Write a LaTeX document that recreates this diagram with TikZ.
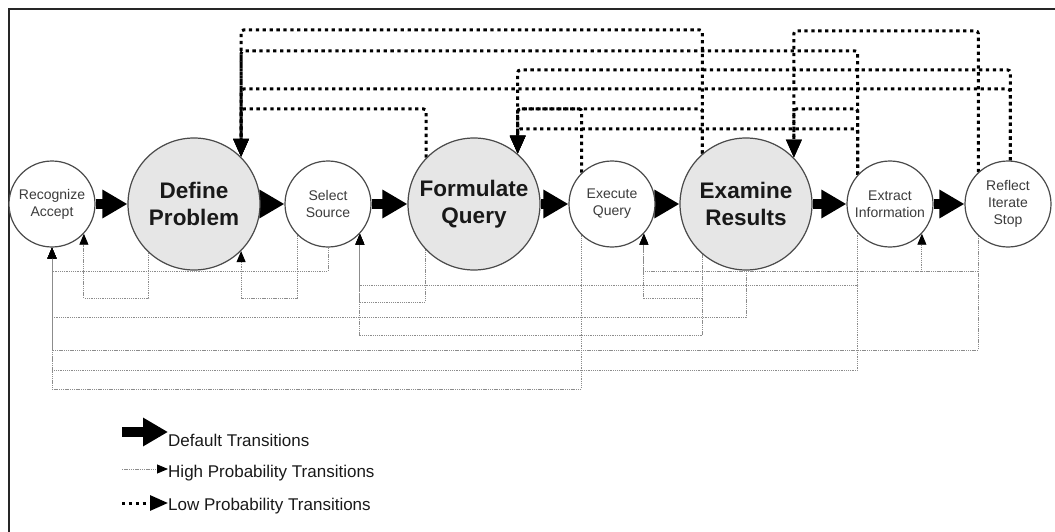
\documentclass[tikz,border=0pt]{standalone}
\usepackage{fontspec}
\setmainfont{Liberation Sans}
\usetikzlibrary{arrows.meta,backgrounds}

\definecolor{nodeedge}{HTML}{4A4A4A}
\definecolor{bigfill}{HTML}{E6E6E6}
\definecolor{smalltext}{HTML}{3C3C3C}
\definecolor{hpgray}{HTML}{8C8C8C}

\tikzset{
  stage/.style={circle, draw=nodeedge, line width=1.2pt, inner sep=0pt, align=center},
  minor/.style={stage, fill=white, minimum size=86pt,
    font=\fontsize{14}{17}\selectfont, text=smalltext},
  major/.style={stage, fill=bigfill, minimum size=132pt,
    font=\fontsize{22.5}{27}\selectfont\bfseries, text=black!90},
  deflt/.style={black, line width=10pt, line cap=butt,
    -{Triangle[length=25pt,width=27pt]}},
  hiprob/.style={hpgray, line width=0.9pt, dash pattern=on 1.3pt off 0.9pt,
    -{Triangle[length=11pt,width=9pt,color=black]}},
  loprob/.style={black, line width=3pt, dash pattern=on 3.3pt off 3.6pt,
    rounded corners=2.5pt, -{Triangle[length=18pt,width=15pt]}},
  legtext/.style={anchor=base west, inner sep=0pt,
    font=\fontsize{17}{20}\selectfont, text=black!90},
}

\begin{document}
\begin{tikzpicture}[x=1pt,y=-1pt]
\useasboundingbox (0,0) rectangle (1055,532);

% frame: top and left edges
\draw[line width=2.5pt, black!85] (8.8,532) -- (8.8,8.8) -- (1055,8.8);

% stages of the search process
\node[minor] (RA)  at (52,204)   {Recognize\\Accept};
\node[major] (DP)  at (194,204)  {Define\\Problem};
\node[minor] (SS)  at (328,204)  {Select\\Source};
\node[major] (FQ)  at (474,204)  {Formulate\\Query};
\node[minor] (EQ)  at (612,204)  {Execute\\Query};
\node[major] (ER)  at (746,204)  {Examine\\Results};
\node[minor] (EI)  at (890,204)  {Extract\\Information};
\node[minor] (RIS) at (1008,204) {Reflect\\Iterate\\Stop};

\begin{pgfonlayer}{background}
% default transitions
\draw[deflt] (RA.east) -- (RA.east -| DP.west);
\draw[deflt] (DP.east) -- (DP.east -| SS.west);
\draw[deflt] (SS.east) -- (SS.east -| FQ.west);
\draw[deflt] (FQ.east) -- (FQ.east -| EQ.west);
\draw[deflt] (EQ.east) -- (EQ.east -| ER.west);
\draw[deflt] (ER.east) -- (ER.east -| EI.west);
\draw[deflt] (EI.east) -- (EI.east -| RIS.west);

% low probability transitions (above)
\draw[loprob] (FQ.136.7)  -- (FQ.136.7 |- 0,109)  -- (DP.45.8 |- 0,109) -- (DP.45.8);
\draw[loprob] (ER.131.8)  -- (ER.131.8 |- 0,30)   -- (DP.45.8 |- 0,30)  -- (DP.45.8);
\draw[loprob] (EI.138.1)  -- (EI.138.1 |- 0,51)   -- (DP.45.8 |- 0,51)  -- (DP.45.8);
\draw[loprob] (RIS.87)    -- (RIS.87 |- 0,89)     -- (DP.45.8 |- 0,89)  -- (DP.45.8);
\draw[loprob] (EQ.134.2)  -- (EQ.134.2 |- 0,109)  -- (FQ.49.3 |- 0,109) -- (FQ.49.3);
\draw[loprob] (ER.131.8)  -- (ER.131.8 |- 0,109)  -- (FQ.49.3 |- 0,109) -- (FQ.49.3);
\draw[loprob] (EI.138.1)  -- (EI.138.1 |- 0,129)  -- (FQ.49.3 |- 0,129) -- (FQ.49.3);
\draw[loprob] (RIS.87)    -- (RIS.87 |- 0,70)     -- (FQ.49.3 |- 0,70)  -- (FQ.49.3);
\draw[loprob] (EI.138.1)  -- (EI.138.1 |- 0,109)  -- (ER.44.6 |- 0,109) -- (ER.44.6);
\draw[loprob] (RIS.133.1) -- (RIS.133.1 |- 0,31)  -- (ER.44.6 |- 0,31)  -- (ER.44.6);

% high probability transitions (below)
\draw[hiprob] (DP.-133)    -- (DP.-133 |- 0,298)    -- (RA.-43.9 |- 0,298) -- (RA.-43.9);
\draw[hiprob] (SS.-90)     -- (SS.-90 |- 0,271)     -- (RA.-90 |- 0,271)   -- (RA.-90);
\draw[hiprob] (SS.-134.2)  -- (SS.-134.2 |- 0,298)  -- (DP.-45.8 |- 0,298) -- (DP.-45.8);
\draw[hiprob] (FQ.-137.9)  -- (FQ.-137.9 |- 0,302)  -- (SS.-43.9 |- 0,302) -- (SS.-43.9);
\draw[hiprob] (EQ.-134.2)  -- (EQ.-134.2 |- 0,389)  -- (RA.-90 |- 0,389)   -- (RA.-90);
\draw[hiprob] (ER.-131.8)  -- (ER.-131.8 |- 0,298)  -- (EQ.-43.9 |- 0,298) -- (EQ.-43.9);
\draw[hiprob] (ER.-131.8)  -- (ER.-131.8 |- 0,335)  -- (SS.-43.9 |- 0,335) -- (SS.-43.9);
\draw[hiprob] (ER.-90)     -- (ER.-90 |- 0,317)     -- (RA.-90 |- 0,317)   -- (RA.-90);
\draw[hiprob] (EI.-138.1)  -- (EI.-138.1 |- 0,285)  -- (SS.-43.9 |- 0,285) -- (SS.-43.9);
\draw[hiprob] (EI.-138.1)  -- (EI.-138.1 |- 0,370)  -- (RA.-90 |- 0,370)   -- (RA.-90);
\draw[hiprob] (RIS.-133.1) -- (RIS.-133.1 |- 0,271) -- (EI.-43.9 |- 0,271) -- (EI.-43.9);
\draw[hiprob] (RIS.-133.1) -- (RIS.-133.1 |- 0,271) -- (EQ.-43.9 |- 0,271) -- (EQ.-43.9);
\draw[hiprob] (RIS.-133.1) -- (RIS.-133.1 |- 0,350) -- (RA.-90 |- 0,350)   -- (RA.-90);
\end{pgfonlayer}

% legend
\coordinate (ldef) at (122,432);
\coordinate (lhi)  at (122,469);
\coordinate (llo)  at (122,503);
\node[legtext] (tdef) at (168,446) {Default Transitions};
\node[legtext] (thi)  at (168,477) {High Probability Transitions};
\node[legtext] (tlo)  at (168,510) {Low Probability Transitions};
\draw[deflt]  (ldef) -- (ldef -| tdef.west);
\draw[hiprob] (lhi)  -- (lhi -| thi.west);
\draw[loprob] (llo)  -- (llo -| tlo.west);
\end{tikzpicture}
\end{document}
